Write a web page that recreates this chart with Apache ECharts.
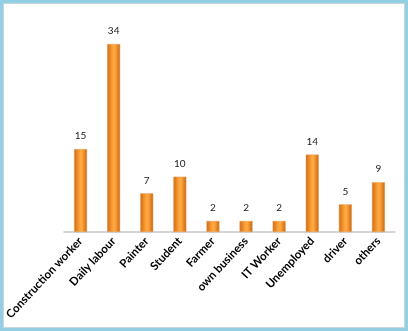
<!DOCTYPE html>
<html lang="en">
<head>
    <meta charset="UTF-8">
    <title>Occupation</title>
    <style>
        html, body { margin: 0; padding: 0; background: #fff; }
        #main {
            position: absolute;
            left: 0; top: 0;
            width: 402px; height: 325px;
            border: 3px solid #93cfe2;
            box-shadow: inset 0 0 0 1px #c9d7dc;
        }
    </style>
</head>
<body>
<div id="main"></div>
<script src="https://cdn.jsdelivr.net/npm/echarts@6/dist/echarts.min.js"></script>
<script>
    var categories = ['Construction worker', 'Daily labour', 'Painter', 'Student', 'Farmer',
        'own business', 'IT Worker', 'Unemployed', 'driver', 'others'];
    var counts = [15, 34, 7, 10, 2, 2, 2, 14, 5, 9];

    var myChart = echarts.init(document.getElementById('main'));
    myChart.setOption({
        animation: false,
        grid: { left: 61, right: 10, top: 41, bottom: 96, outerBoundsMode: 'none', containLabel: false },
        xAxis: {
            type: 'category',
            data: categories,
            axisLine: { lineStyle: { color: '#c8c8c8', width: 1.5 } },
            axisTick: { show: false },
            axisLabel: {
                rotate: 47,
                interval: 0,
                margin: 7,
                color: '#000',
                fontWeight: 'bold',
                fontSize: 11.5,
                fontFamily: 'Lato'
            }
        },
        yAxis: {
            type: 'value',
            min: 0,
            max: 34,
            show: false
        },
        series: [{
            type: 'bar',
            data: counts,
            barWidth: 13,
            itemStyle: {
                color: new echarts.graphic.LinearGradient(0, 0, 1, 0, [
                    { offset: 0, color: '#cf6a12' },
                    { offset: 0.45, color: '#ffa43c' },
                    { offset: 0.6, color: '#ffa83f' },
                    { offset: 1, color: '#c9650f' }
                ]),
                borderColor: '#e4a060',
                borderWidth: 0.5
            },
            label: {
                show: true,
                position: 'top',
                distance: 8,
                color: '#222',
                fontSize: 10,
                fontFamily: 'Lato'
            }
        }]
    });
</script>
</body>
</html>
